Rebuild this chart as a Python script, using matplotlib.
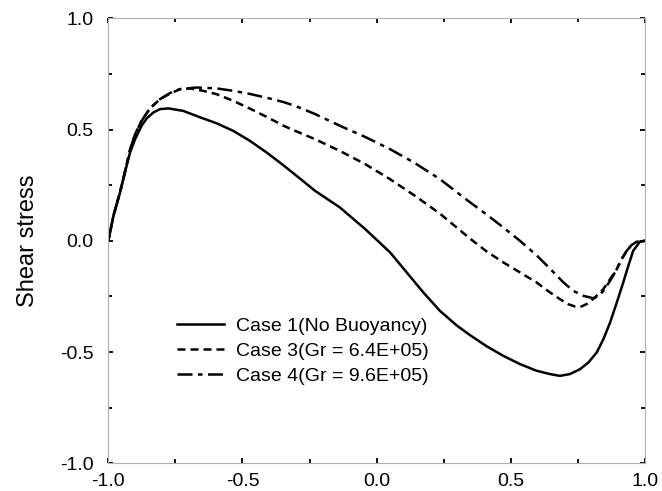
import matplotlib
matplotlib.use("Agg")
import matplotlib.pyplot as plt
from matplotlib.ticker import MultipleLocator, FormatStrFormatter

plt.rcParams['font.family'] = ['Liberation Sans', 'DejaVu Sans']
plt.rcParams['axes.unicode_minus'] = False

# Case 1 (No Buoyancy)
x_case1 = [-1.0, -0.981, -0.956, -0.938, -0.919, -0.900, -0.876, -0.857, -0.832,
           -0.807, -0.776, -0.721, -0.658, -0.596, -0.534, -0.472, -0.410, -0.348,
           -0.286, -0.230, -0.137, -0.043, 0.050, 0.112, 0.174, 0.236, 0.298,
           0.348, 0.410, 0.472, 0.534, 0.596, 0.646, 0.683, 0.720, 0.758,
           0.789, 0.820, 0.845, 0.870, 0.895, 0.919, 0.938, 0.956, 0.981, 1.0]
y_case1 = [0.0, 0.112, 0.218, 0.307, 0.397, 0.457, 0.517, 0.550, 0.577,
           0.592, 0.595, 0.584, 0.555, 0.528, 0.494, 0.449, 0.397, 0.340,
           0.280, 0.225, 0.150, 0.053, -0.052, -0.142, -0.232, -0.315, -0.380,
           -0.424, -0.474, -0.517, -0.554, -0.584, -0.599, -0.607, -0.599, -0.577,
           -0.547, -0.502, -0.442, -0.367, -0.277, -0.187, -0.112, -0.045, -0.004, 0.0]

# Case 3 (Gr = 6.4E+05)
x_case3 = [-1.0, -0.981, -0.956, -0.938, -0.919, -0.900, -0.876, -0.845, -0.807,
           -0.770, -0.733, -0.696, -0.646, -0.596, -0.534, -0.472, -0.410, -0.348,
           -0.323, -0.230, -0.137, -0.043, 0.050, 0.143, 0.236, 0.348, 0.410,
           0.472, 0.534, 0.596, 0.646, 0.683, 0.714, 0.739, 0.764, 0.783,
           0.814, 0.845, 0.870, 0.895, 0.913, 0.932, 0.950, 0.969, 1.0]
y_case3 = [0.0, 0.112, 0.220, 0.310, 0.410, 0.480, 0.539, 0.595, 0.637,
           0.662, 0.681, 0.685, 0.674, 0.659, 0.629, 0.594, 0.557, 0.518,
           0.504, 0.457, 0.404, 0.345, 0.277, 0.202, 0.122, 0.010, -0.048,
           -0.097, -0.142, -0.187, -0.232, -0.262, -0.285, -0.295, -0.295, -0.284,
           -0.254, -0.217, -0.172, -0.127, -0.082, -0.045, -0.019, -0.004, 0.0]

# Case 4 (Gr = 9.6E+05)
x_case4 = [-1.0, -0.981, -0.956, -0.938, -0.919, -0.900, -0.876, -0.845, -0.807,
           -0.770, -0.733, -0.671, -0.596, -0.534, -0.472, -0.410, -0.348, -0.323,
           -0.286, -0.230, -0.137, -0.043, 0.050, 0.143, 0.236, 0.348, 0.410,
           0.472, 0.534, 0.596, 0.646, 0.696, 0.733, 0.770, 0.807, 0.826,
           0.845, 0.870, 0.895, 0.913, 0.932, 0.950, 0.969, 1.0]
y_case4 = [0.0, 0.112, 0.220, 0.310, 0.410, 0.480, 0.539, 0.595, 0.637,
           0.664, 0.682, 0.689, 0.685, 0.674, 0.660, 0.643, 0.624, 0.614,
           0.598, 0.570, 0.517, 0.467, 0.412, 0.349, 0.277, 0.173, 0.118,
           0.060, 0.000, -0.065, -0.125, -0.187, -0.225, -0.247, -0.258, -0.250,
           -0.225, -0.180, -0.127, -0.082, -0.045, -0.019, -0.004, 0.0]

labels = ["Case 1(No Buoyancy)", "Case 3(Gr = 6.4E+05)", "Case 4(Gr = 9.6E+05)"]

fig = plt.figure(figsize=(6.62, 4.91), dpi=100)
ax = fig.add_axes([0.1636, 0.0564, 0.9743 - 0.1636, 0.9627 - 0.0564])

lw = 1.8
ax.plot(x_case1, y_case1, color='black', lw=lw, linestyle='-', label=labels[0])
ax.plot(x_case3, y_case3, color='black', lw=lw, linestyle=(0, (3.2, 2.0)), label=labels[1])
ax.plot(x_case4, y_case4, color='black', lw=lw, linestyle=(0, (6.0, 2.2, 1.8, 2.2)), label=labels[2])

ax.set_xlim(-1.0, 1.0)
ax.set_ylim(-1.0, 1.0)
ax.xaxis.set_major_locator(MultipleLocator(0.5))
ax.yaxis.set_major_locator(MultipleLocator(0.5))
ax.xaxis.set_minor_locator(MultipleLocator(0.25))
ax.yaxis.set_minor_locator(MultipleLocator(0.25))
ax.xaxis.set_major_formatter(FormatStrFormatter('%.1f'))
ax.yaxis.set_major_formatter(FormatStrFormatter('%.1f'))

ax.tick_params(which='both', direction='in', top=True, right=True,
               color='black', width=1.3)
ax.tick_params(which='major', length=3.5, labelsize=14)
ax.tick_params(which='minor', length=3.0)
ax.tick_params(axis='x', which='major', pad=7)
ax.tick_params(axis='y', which='major', pad=10.5)

for sp in ax.spines.values():
    sp.set_color('#b0b0b0')
    sp.set_linewidth(0.8)

ax.set_ylabel("Shear stress", fontsize=17, labelpad=15)

leg = ax.legend(loc='upper left', bbox_to_anchor=(0.1275, 0.328), frameon=False,
                fontsize=14, handlelength=2.45, handletextpad=0.6,
                labelspacing=0.38, borderpad=0, borderaxespad=0)

fig.savefig("out.png", dpi=100)
